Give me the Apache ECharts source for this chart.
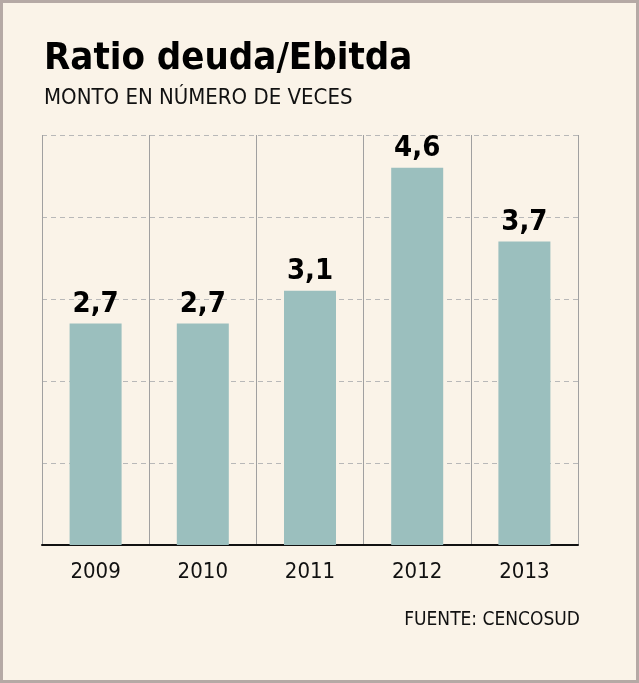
<!DOCTYPE html>
<html>
<head>
<meta charset="utf-8">
<script src="https://cdn.jsdelivr.net/npm/echarts@6/dist/echarts.min.js"></script>
<style>
  html, body { margin: 0; padding: 0; background: #faf3e8; }
  #main { width: 639px; height: 683px; }
</style>
</head>
<body>
<div id="main"></div>
<script>
// datos del gráfico
var years = ['2009', '2010', '2011', '2012', '2013'];
var ratios = [2.7, 2.7, 3.1, 4.6, 3.7];

var chart = echarts.init(document.getElementById('main'));

var option = {
    backgroundColor: '#faf3e8',
    animation: false,
    title: {
        text: 'Ratio deuda/Ebitda',
        subtext: 'MONTO EN NÚMERO DE VECES',
        left: 39,
        top: 35,
        itemGap: 9,
        textStyle: {
            fontFamily: 'DejaVu Sans Condensed',
            fontWeight: 'bold',
            fontSize: 38,
            color: '#000'
        },
        subtextStyle: {
            fontFamily: 'DejaVu Sans Condensed',
            fontSize: 22,
            color: '#111'
        }
    },
    graphic: [
        {
            type: 'rect',
            shape: { x: 1.5, y: 1.5, width: 636, height: 680 },
            style: { fill: 'none', stroke: '#b5a9a5', lineWidth: 3 },
            silent: true
        },
        {
            type: 'text',
            right: 59,
            top: 611,
            style: {
                text: 'FUENTE: CENCOSUD',
                font: '19px "DejaVu Sans Condensed"',
                fill: '#111'
            }
        }
    ],
    grid: {
        left: 42,
        right: 61,
        top: 135,
        bottom: 138
    },
    xAxis: {
        type: 'category',
        data: years,
        axisTick: { show: false },
        axisLine: { lineStyle: { color: '#111', width: 2 } },
        axisLabel: {
            margin: 16,
            fontFamily: 'DejaVu Sans Condensed',
            fontSize: 22,
            color: '#111'
        },
        splitLine: {
            show: true,
            interval: 0,
            lineStyle: { color: '#a0a0a0', width: 1 }
        }
    },
    yAxis: {
        type: 'value',
        min: 0,
        max: 5,
        interval: 1,
        axisLabel: { show: false },
        axisLine: { show: false },
        axisTick: { show: false },
        splitLine: {
            lineStyle: { color: '#b8b8b8', type: [5, 4], width: 1 }
        }
    },
    series: [
        {
            type: 'bar',
            data: ratios,
            barWidth: 52,
            itemStyle: { color: '#9bbfbe' },
            label: {
                show: true,
                position: 'top',
                distance: 5,
                fontFamily: 'DejaVu Sans Condensed',
                fontWeight: 'bold',
                fontSize: 29,
                color: '#000',
                formatter: function (p) {
                    return String(p.value).replace('.', ',');
                }
            }
        }
    ]
};

chart.setOption(option);
</script>
</body>
</html>
